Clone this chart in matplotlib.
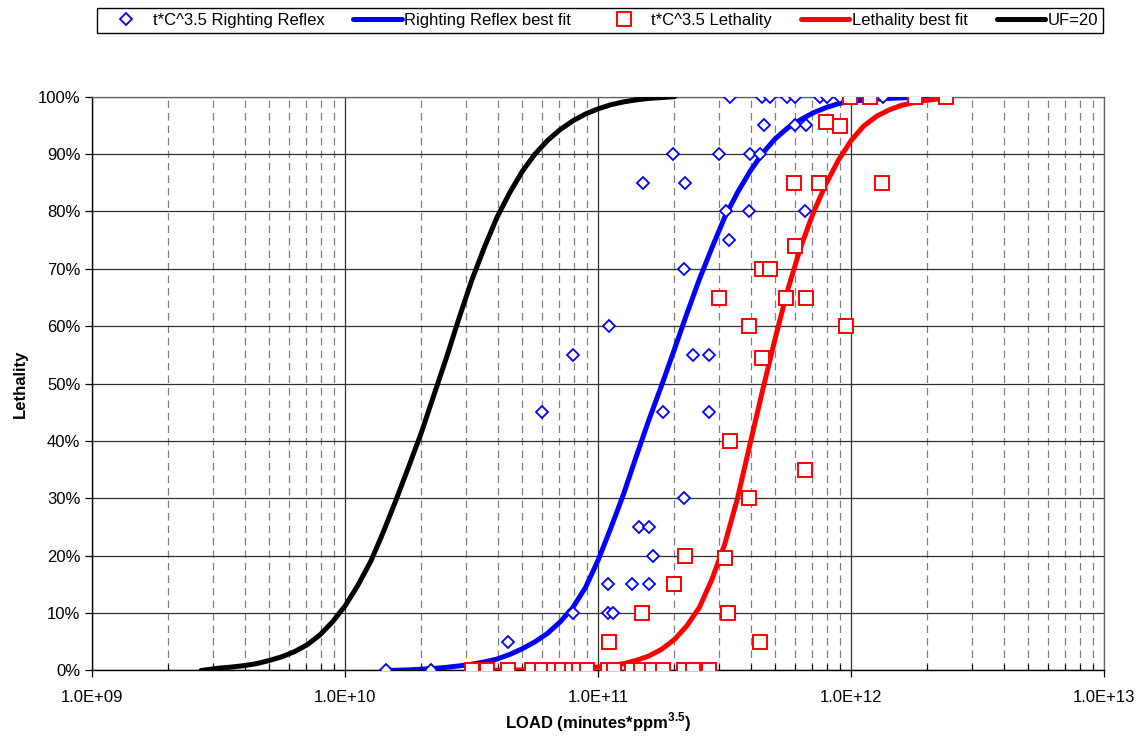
import numpy as np
import matplotlib.pyplot as plt
from matplotlib.ticker import FixedLocator, FuncFormatter, LogLocator, NullFormatter

plt.rcParams['font.family'] = ['Liberation Sans', 'DejaVu Sans']
plt.rcParams['mathtext.fontset'] = 'custom'
plt.rcParams['mathtext.rm'] = 'Liberation Sans'
plt.rcParams['mathtext.bf'] = 'Liberation Sans:bold'

# observed righting reflex response vs load (t*C^3.5), fraction affected
rr_load = [1.45e10, 2.19e10,
           4.40e10,
           7.93e10, 1.09e11, 1.14e11,
           1.09e11, 1.36e11, 1.58e11,
           1.64e11,
           1.45e11, 1.59e11,
           2.19e11,
           6.01e10, 1.81e11, 2.73e11,
           7.93e10, 2.37e11, 2.74e11,
           1.10e11,
           2.18e11,
           3.29e11,
           3.19e11, 3.95e11, 6.59e11,
           1.50e11, 2.21e11,
           1.98e11, 3.01e11, 3.98e11, 4.36e11,
           4.52e11, 5.98e11, 6.62e11,
           3.32e11, 4.43e11, 4.75e11, 5.55e11, 5.98e11, 7.52e11, 7.98e11, 9.02e11, 1.33e12]
rr_frac = [0.0, 0.0,
           0.05,
           0.10, 0.10, 0.10,
           0.15, 0.15, 0.15,
           0.20,
           0.25, 0.25,
           0.30,
           0.45, 0.45, 0.45,
           0.55, 0.55, 0.55,
           0.60,
           0.70,
           0.75,
           0.80, 0.80, 0.80,
           0.85, 0.85,
           0.90, 0.90, 0.90, 0.90,
           0.95, 0.95, 0.95,
           1.0, 1.0, 1.0, 1.0, 1.0, 1.0, 1.0, 1.0, 1.0]

# observed lethality vs load
leth_load = [3.18e10, 3.62e10, 4.41e10, 5.48e10, 6.01e10, 6.69e10, 7.21e10, 7.89e10, 8.39e10,
             9.05e10, 1.09e11, 1.15e11, 1.36e11, 1.48e11, 1.63e11, 1.81e11, 2.18e11, 2.37e11, 2.74e11,
             1.10e11, 4.34e11,
             1.49e11, 3.27e11,
             1.99e11,
             2.20e11, 3.17e11,
             3.95e11,
             6.56e11,
             3.32e11,
             4.43e11,
             3.95e11, 9.52e11,
             3.00e11, 5.52e11, 6.63e11,
             4.45e11, 4.75e11,
             5.98e11,
             5.95e11, 7.47e11, 1.32e12,
             9.00e11, 7.93e11,
             9.87e11, 1.19e12, 1.78e12, 2.36e12]
leth_frac = [0.0] * 19 + [
             0.05, 0.05,
             0.10, 0.10,
             0.15,
             0.20, 0.196,
             0.30,
             0.35,
             0.40,
             0.544,
             0.60, 0.60,
             0.65, 0.65, 0.65,
             0.70, 0.70,
             0.74,
             0.85, 0.85, 0.85,
             0.949, 0.956,
             1.0, 1.0, 1.0, 1.0]

# best fit curves
rr_fit_load = [1.45e10, 1.78e10, 2.24e10, 2.51e10, 2.82e10, 3.16e10, 3.55e10, 3.98e10, 4.47e10,
               5.01e10, 5.62e10, 6.31e10, 7.08e10, 7.94e10, 8.91e10, 1.00e11, 1.12e11, 1.26e11,
               1.41e11, 1.58e11, 1.78e11, 2.00e11, 2.24e11, 2.51e11, 2.82e11, 3.16e11, 3.55e11,
               3.98e11, 4.47e11, 5.01e11, 5.62e11, 6.31e11, 7.08e11, 7.94e11, 8.91e11, 1.00e12,
               1.26e12, 1.58e12, 2.34e12]
rr_fit_frac = [0.0, 0.001, 0.0035, 0.0055, 0.008, 0.011, 0.015, 0.020, 0.028,
               0.038, 0.050, 0.065, 0.085, 0.110, 0.145, 0.193, 0.248, 0.308,
               0.372, 0.435, 0.497, 0.560, 0.622, 0.682, 0.738, 0.790, 0.833,
               0.870, 0.902, 0.927, 0.946, 0.960, 0.972, 0.981, 0.988, 0.992,
               0.996, 0.998, 1.0]

leth_fit_load = [3.16e10, 3.98e10, 5.01e10, 6.31e10, 7.94e10, 8.91e10, 1.00e11, 1.12e11, 1.26e11,
                 1.41e11, 1.58e11, 1.78e11, 2.00e11, 2.24e11, 2.51e11, 2.82e11, 3.16e11, 3.55e11,
                 3.98e11, 4.47e11, 5.01e11, 5.62e11, 6.31e11, 7.08e11, 7.94e11, 8.91e11, 1.00e12,
                 1.12e12, 1.26e12, 1.41e12, 1.58e12, 1.78e12, 2.00e12, 2.40e12]
leth_fit_frac = [0.0, 0.0005, 0.001, 0.002, 0.0035, 0.0045, 0.006, 0.0085, 0.012,
                 0.0175, 0.025, 0.037, 0.054, 0.078, 0.110, 0.160, 0.220, 0.300,
                 0.395, 0.490, 0.580, 0.665, 0.738, 0.798, 0.848, 0.890, 0.924,
                 0.949, 0.966, 0.977, 0.985, 0.990, 0.994, 0.998]

uf_load = [2.69e9, 3.16e9, 3.55e9, 3.98e9, 4.47e9, 5.01e9, 5.62e9, 6.31e9, 7.08e9,
           7.94e9, 8.91e9, 1.00e10, 1.12e10, 1.26e10, 1.41e10, 1.58e10, 1.78e10, 2.00e10,
           2.24e10, 2.51e10, 2.82e10, 3.16e10, 3.55e10, 3.98e10, 4.47e10, 5.01e10, 5.62e10,
           6.31e10, 7.08e10, 7.94e10, 8.91e10, 1.00e11, 1.12e11, 1.26e11, 1.41e11, 1.58e11,
           2.00e11]
uf_frac = [0.0, 0.004, 0.006, 0.0085, 0.012, 0.0175, 0.024, 0.033, 0.045,
           0.062, 0.085, 0.113, 0.148, 0.190, 0.240, 0.295, 0.355, 0.415,
           0.480, 0.545, 0.615, 0.680, 0.738, 0.790, 0.833, 0.870, 0.900,
           0.924, 0.943, 0.958, 0.970, 0.979, 0.986, 0.991, 0.9945, 0.997,
           1.0]

x_ticks = [1e9, 1e10, 1e11, 1e12, 1e13]
x_tick_labels = ['1.0E+09', '1.0E+10', '1.0E+11', '1.0E+12', '1.0E+13']

fig = plt.figure(figsize=(11.42, 7.36), dpi=100)
ax = fig.add_axes([0.0808, 0.0890, 0.8862, 0.7796])

ax.set_xscale('log')
ax.set_xlim(1e9, 1e13)
ax.set_ylim(0, 1)

# grid: solid major lines, dashed grey minor lines on the log axis
ax.xaxis.set_major_locator(FixedLocator(x_ticks))
ax.xaxis.set_minor_locator(LogLocator(base=10, subs=np.arange(2, 10)))
ax.xaxis.set_minor_formatter(NullFormatter())
ax.set_xticklabels(x_tick_labels)
ax.yaxis.set_major_locator(FixedLocator(np.arange(0, 1.01, 0.1)))
ax.yaxis.set_major_formatter(FuncFormatter(lambda v, p: '%d%%' % round(v * 100)))
ax.grid(which='major', axis='both', color='#303030', lw=0.9, ls='-', zorder=0)
ax.grid(which='minor', axis='x', color='#808080', lw=0.9, ls=(0, (6, 4)), zorder=0)
ax.set_axisbelow(True)

for side in ['left', 'bottom']:
    ax.spines[side].set_color('black')
    ax.spines[side].set_linewidth(1.0)
for side in ['top', 'right']:
    ax.spines[side].set_color('#606060')
    ax.spines[side].set_linewidth(0.9)

ax.tick_params(axis='both', which='major', direction='out', length=5, width=0.9,
               labelsize=12, colors='black')
ax.tick_params(axis='x', which='major', pad=9)
ax.tick_params(axis='x', which='minor', direction='in', length=4, width=0.8)
ax.tick_params(axis='y', which='minor', left=False)

# fitted curves
ax.plot(rr_fit_load, rr_fit_frac, color='#0000ff', lw=3.6, zorder=3,
        label='Righting Reflex best fit', solid_capstyle='round', solid_joinstyle='round')
ax.plot(leth_fit_load, leth_fit_frac, color='#ff0000', lw=3.6, zorder=3,
        label='Lethality best fit', solid_capstyle='round', solid_joinstyle='round')
ax.plot(uf_load, uf_frac, color='black', lw=3.6, zorder=3,
        label='UF=20', solid_capstyle='round', solid_joinstyle='round')

# observations
ax.plot(rr_load, rr_frac, ls='none', marker='D', ms=5.8, mfc='white', mec='#0000ff',
        mew=1.3, zorder=5, label='t*C^3.5 Righting Reflex')
ax.plot(leth_load, leth_frac, ls='none', marker='s', ms=9.5, mfc='white', mec='#ff0000',
        mew=1.4, zorder=6, label='t*C^3.5 Lethality')

ax.set_xlabel(r'LOAD (minutes*ppm$^{\mathbf{3.5}}$)', fontsize=12, fontweight='bold', labelpad=4)
ax.set_ylabel('Lethality', fontsize=12, fontweight='bold', labelpad=7)

h, l = ax.get_legend_handles_labels()
order = [3, 0, 4, 1, 2]
leg = fig.legend([h[i] for i in order], [l[i] for i in order], loc='center',
                 bbox_to_anchor=(600 / 1142, 1 - 20.5 / 736), ncol=5, fontsize=12,
                 frameon=True, fancybox=False, edgecolor='black', framealpha=1,
                 handlelength=2.9, handletextpad=0.15, columnspacing=1.75,
                 borderpad=0.3, borderaxespad=0)
leg.get_frame().set_linewidth(1.0)

fig.savefig('out.png', dpi=100)
